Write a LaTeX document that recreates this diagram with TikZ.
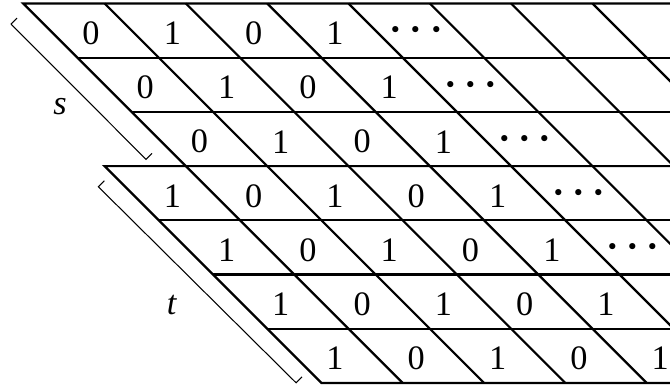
\documentclass[tikz,border=0pt]{standalone}
\usepackage{fontspec}
\setmainfont{Liberation Serif}
\newcommand\valfont{\fontsize{18pt}{21pt}\selectfont}
\newcommand\dotfont{\fontsize{21pt}{24pt}\selectfont\boldmath}
\newcommand\lblfont{\fontsize{18pt}{21pt}\selectfont\itshape}
\begin{document}
\begin{tikzpicture}[x=1cm,y=1cm,
  gridline/.style={line width=1.15pt, line join=miter},
  brk/.style={line width=0.55pt},
  val/.style={font={\valfont}, inner sep=0pt},
  dts/.style={font={\dotfont}, inner sep=0pt},
  lbl/.style={font={\lblfont}, inner sep=0pt}]
\useasboundingbox (-0.43,-7.094) rectangle (11.93,0.065);
\begin{scope}
  \clip (-0.43,-7.094) rectangle (11.93,0.065);
  \draw[gridline] (13,0) -- (0,0) -- (7,-7);
  \draw[gridline] (13,-3) -- (1.5,-3) -- (5.5,-7) -- (13,-7);
  \draw[gridline] (1,-1) -- (13,-1);
  \draw[gridline] (2,-2) -- (13,-2);
  \draw[gridline] (2.5,-4) -- (13,-4);
  \draw[gridline] (3.5,-5) -- (13,-5);
  \draw[gridline] (4.5,-6) -- (13,-6);
  \foreach \k in {1,...,8} {
    \draw[gridline] (1.5*\k,0) -- (1.5*\k+7,-7);
  }
  \foreach \r in {0,1,2} {
    \foreach \k/\v in {0/0,1/1,2/0,3/1} {
      \node[val] (c\r\k) at (1.5*\k+\r+1.25,-\r-0.55) {\v};
    }
    \node[dts] (d\r) at (1.5*4+\r+1.25,-\r-0.5) {$\cdots$};
  }
  \foreach \r in {3,4,5,6} {
    \foreach \k/\v in {-1/1,0/0,1/1,2/0,3/1} {
      \node[val] (c\r\k) at (1.5*\k+\r+1.25,-\r-0.55) {\v};
    }
  }
  \node[dts] (d3) at (1.5*4+3+1.25,-3.5) {$\cdots$};
  \node[dts] (d4) at (1.5*4+4+1.25,-4.5) {$\cdots$};
\end{scope}
\coordinate (sa) at (-0.227,-0.378);
\coordinate (sb) at (2.264,-2.875);
\coordinate (ta) at (1.384,-3.380);
\coordinate (tb) at (5.031,-6.996);
\draw[brk] ([shift={(0.11,0.11)}]sa) -- (sa) -- (sb) -- ([shift={(0.11,0.11)}]sb);
\draw[brk] ([shift={(0.11,0.11)}]ta) -- (ta) -- (tb) -- ([shift={(0.11,0.11)}]tb);
\node[lbl] (slabel) at (0.677,-1.904) {s};
\node[lbl] (tlabel) at (2.738,-5.563) {t};
\end{tikzpicture}
\end{document}
